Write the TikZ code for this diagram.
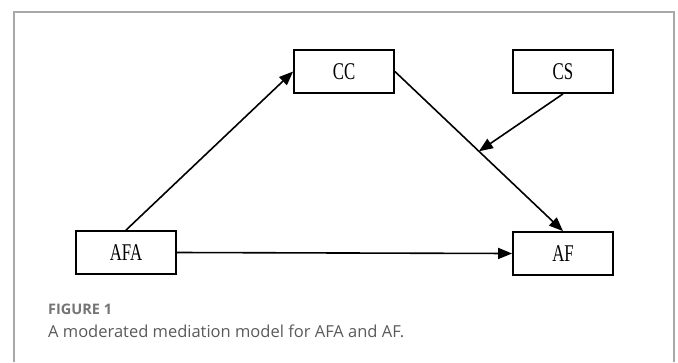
\documentclass[tikz,border=0pt]{standalone}
\usepackage{fontspec}
\usepackage{tikz}
\usetikzlibrary{arrows.meta,calc}
\newfontfamily\boxfont[FakeStretch=0.7]{Liberation Serif}
\newfontfamily\capfont{Open Sans}
\definecolor{framegray}{HTML}{A8A8A8}
\definecolor{capgray}{HTML}{5A5A5A}
\definecolor{figgray}{HTML}{747474}
\tikzset{
  varbox/.style={draw=black, line width=1.8pt, minimum width=100pt, minimum height=43pt, inner sep=0pt, font=\boxfont\fontsize{24}{24}\selectfont},
  path/.style={line width=1.6pt, -{Triangle[length=14pt,width=11pt]}}
}
\begin{document}
\begin{tikzpicture}[x=1pt,y=-1pt]
\useasboundingbox (0,0) rectangle (678,362);
\draw[framegray, line width=1.5pt] (14,362) -- (14,12) -- (674,12) -- (674,362);
\node[varbox] (cc) at (344,71.5) {CC};
\node[varbox] (cs) at (563,71.5) {CS};
\node[varbox] (afa) at (126,252.5) {AFA};
\node[varbox] (af) at (563,253.5) {AF};
\coordinate (mid) at ($(cc.east)!0.5!(af.north)$);
\draw[path] (afa.north) -- (cc.west);
\draw[path] (cc.east) -- (af.north);
\draw[path] (afa.east) -- (af.west);
\draw[path] (cs.south) -- (mid);
\node[anchor=base west, inner sep=0pt, text=figgray, font=\capfont\bfseries\fontsize{14.5}{14.5}\selectfont] (fig) at (48,314) {FIGURE 1};
\node[anchor=base west, inner sep=0pt, text=capgray, font=\capfont\fontsize{16.5}{16.5}\selectfont] (cap) at (48,337) {A moderated mediation model for AFA and AF.};
\end{tikzpicture}
\end{document}
